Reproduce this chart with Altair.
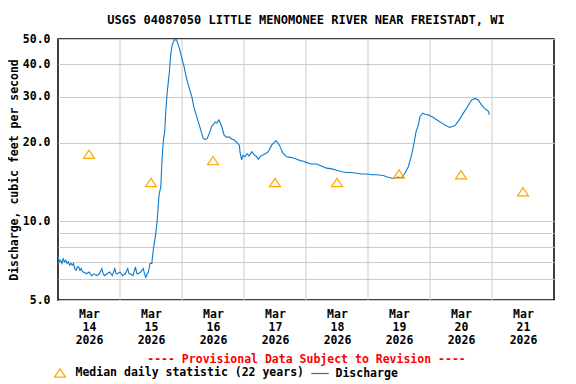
import altair as alt
import pandas as pd

TITLE = "USGS 04087050 LITTLE MENOMONEE RIVER NEAR FREISTADT, WI"
Y_TITLE = "Discharge, cubic feet per second"
X_NOTE = "---- Provisional Data Subject to Revision ----"
MEDIAN_NAME = "Median daily statistic (22 years)"
FLOW_NAME = "Discharge"

# discharge readings: hours after 2026-03-14 00:00, cubic feet per second
flow_hours = [
    0, 0.5, 1, 1.5, 2, 2.5, 3, 3.5, 4, 4.5, 5, 5.5, 6, 6.5, 7, 7.5, 8, 8.5, 9, 9.5,
    10, 11, 12, 13, 14, 15, 16, 17, 17.5, 18, 19, 20, 21, 22, 22.5, 23, 24, 25, 26,
    27, 27.5, 28, 29, 30, 30.5, 31, 32, 33, 33.5, 34, 34.5, 35, 35.6, 36.3, 36.9,
    37.8, 38.4, 39.1, 39.8, 40.3, 40.8, 41.3, 41.8, 42.3, 43.1, 43.6, 44.2, 45.0,
    45.9, 47.0, 47.9, 48.8, 49.8, 50.8, 51.8, 52.6, 53.7, 54.7, 55.6, 56.2, 57.0,
    57.8, 58.6, 59.5, 60.8, 61.5, 62.3, 63.4, 64.3, 65.3, 66.2, 67.2, 68.2, 69.2,
    70.2, 70.5, 71.1, 71.6, 72.4, 73.2, 74.0, 75.0, 76.0, 76.9, 77.5, 78.5, 79.5,
    80.5, 81.4, 82.7, 83.5, 84.4, 85.7, 87.0, 88.5, 90.0, 91.1, 92.5, 93.7, 95.0,
    96.3, 98.0, 100.1, 102.0, 104.0, 106.0, 107.9, 110.0, 111.8, 113.5, 115.6,
    117.5, 119.5, 121.5, 123.4, 125.9, 127.5, 129.8, 131.5, 133.0, 134.3, 135.6,
    136.9, 137.8, 138.6, 139.5, 140.1, 141.2, 142.2, 143.3, 145.3, 147.2, 149.2,
    150.5, 151.7, 153.7, 155.3, 156.9, 158.4, 160.1, 161.4, 162.7, 164.0, 165.3,
    166.6, 167.0,
]
flow_cfs = [
    7.4, 7.0, 7.1, 6.9, 7.2, 7.0, 7.1, 6.9, 7.0, 6.8, 6.9, 6.8, 6.9, 6.6, 6.5, 6.7, 6.7, 6.5, 6.6, 6.4,
    6.4, 6.3, 6.4, 6.2, 6.3, 6.2, 6.3, 6.6, 6.3, 6.2, 6.3, 6.4, 6.2, 6.6, 6.3, 6.3, 6.4, 6.2, 6.3,
    6.6, 6.3, 6.3, 6.2, 6.7, 6.3, 6.3, 6.4, 6.6, 6.3, 6.1, 6.3, 6.4, 6.9, 6.9, 7.8,
    8.9, 10.1, 12.6, 13.6, 17.5, 20.5, 22.1, 27.2, 31.4, 37.3, 43.4, 47.4, 49.6,
    49.6, 46.0, 42.2, 39.2, 35.2, 32.4, 30.1, 27.4, 25.2, 23.4, 21.8, 20.8, 20.6,
    20.8, 21.8, 23.1, 24.0, 23.8, 24.5, 23.1, 21.4, 21.0, 21.1, 20.7, 20.5, 20.1,
    19.6, 18.3, 17.2, 17.9, 17.7, 18.2, 17.8, 18.5, 18.0, 17.7, 17.3, 17.8, 18.0,
    18.2, 18.5, 19.6, 20.0, 20.4, 19.6, 18.3, 17.7, 17.6, 17.5, 17.3, 17.1, 17.0,
    16.8, 16.6, 16.6, 16.3, 16.0, 15.9, 15.7, 15.5, 15.4, 15.4, 15.3,
    15.2, 15.2, 15.1, 15.1, 15.0, 14.8, 14.6, 14.8, 14.7, 15.3, 16.2,
    18.0, 19.9, 22.1, 23.4, 25.2, 26.0, 25.7, 25.6, 25.0, 24.3, 23.6,
    23.2, 22.9, 23.3, 24.5, 26.0, 27.4, 29.2, 29.6, 29.2, 27.9, 27.0,
    26.4, 25.6,
]

median_days = [14, 15, 16, 17, 18, 19, 20, 21]
median_cfs = [18.1, 14.1, 17.1, 14.1, 14.1, 15.2, 15.1, 13.0]

y_ticks = [5, 6, 7, 8, 9, 10, 20, 30, 40, 50]
y_labeled = [5, 10, 20, 30, 40, 50]
label_days = [14, 15, 16, 17, 18, 19, 20, 21]
grid_days = [15, 16, 17, 18, 19, 20, 21]

FONT = "DejaVu Sans Mono"
FS = 11.5
BLUE = "#0a7acc"
ORANGE = "#ffa500"
TRI = "M0,-0.75L1,0.75L-1,0.75Z"
STROKE = "M-1.6,0L1.6,0"

start = pd.Timestamp("2026-03-14 00:00")
flow = pd.DataFrame({
    "time": start + pd.to_timedelta(flow_hours, unit="h"),
    "cfs": flow_cfs,
    "series": FLOW_NAME,
})
median = pd.DataFrame({
    "time": [pd.Timestamp(2026, 3, d, 12) for d in median_days],
    "cfs": median_cfs,
    "series": MEDIAN_NAME,
})
grid = pd.DataFrame({"time": [pd.Timestamp(2026, 3, d) for d in grid_days]})

x_scale = alt.Scale(domain=[alt.DateTime(year=2026, month=3, date=14),
                            alt.DateTime(year=2026, month=3, date=22)])
y_scale = alt.Scale(type="log", domain=[5, 50], nice=False)

x_axis = alt.Axis(
    values=[alt.DateTime(year=2026, month=3, date=d, hours=12) for d in label_days],
    labelExpr="[timeFormat(datum.value, '%b'), timeFormat(datum.value, '%d'), timeFormat(datum.value, '%Y')]",
    grid=False, ticks=False, domain=False, labelPadding=8, labelLineHeight=13,
    labelBaseline="top", labelFlush=False, labelOverlap=False,
    title=X_NOTE, titleColor="#ff0000", titlePadding=8,
)
y_axis = alt.Axis(
    values=y_ticks,
    labelExpr="indexof(" + str(y_labeled) + ", datum.value) >= 0 ? format(datum.value, '.1f') : ''",
    grid=True, gridColor="#cccccc", gridWidth=1, ticks=False, domain=False,
    labelPadding=8, labelOverlap=False,
    title=Y_TITLE, titleX=-44, titleY=130.5, titleAngle=270,
    titleAlign="center", titleBaseline="middle",
)

legend = alt.Legend(orient="none", legendX=-4.5, legendY=327,
                    direction="horizontal", title=None,
                    symbolSize=121, symbolStrokeWidth=1.2,
                    labelOffset=9, columnPadding=4)
color = alt.Color("series:N",
                  scale=alt.Scale(domain=[MEDIAN_NAME, FLOW_NAME], range=[ORANGE, BLUE]),
                  legend=legend)
shape = alt.Shape("series:N",
                  scale=alt.Scale(domain=[MEDIAN_NAME, FLOW_NAME], range=[TRI, STROKE]),
                  legend=legend)

rules = alt.Chart(grid).mark_rule(color="#cccccc", strokeWidth=1).encode(
    x=alt.X("time:T", scale=x_scale, axis=x_axis)
)
line = alt.Chart(flow).mark_line(strokeWidth=1.1).encode(
    x=alt.X("time:T", scale=x_scale, axis=x_axis),
    y=alt.Y("cfs:Q", scale=y_scale, axis=y_axis),
    color=color,
)
points = alt.Chart(median).mark_point(filled=False, size=121, strokeWidth=1.2, opacity=1).encode(
    x=alt.X("time:T", scale=x_scale, axis=x_axis),
    y=alt.Y("cfs:Q", scale=y_scale, axis=y_axis),
    color=color,
    shape=shape,
)

chart = alt.layer(rules, line, points).properties(
    width=496, height=261,
    autosize=alt.AutoSizeParams(type="none"),
    padding={"left": 50, "top": 31, "right": 6, "bottom": 84},
    title=alt.Title(TITLE, font=FONT, fontSize=12, fontWeight="bold",
                    anchor="middle", offset=6, color="black"),
).configure(
    font=FONT,
    background="white",
).configure_view(
    stroke="black", strokeWidth=1.5,
).configure_axis(
    labelFont=FONT, labelFontSize=FS, labelFontWeight="bold", labelColor="black",
    titleFont=FONT, titleFontSize=FS, titleFontWeight="bold",
).configure_legend(
    labelFont=FONT, labelFontSize=FS, labelFontWeight="bold", labelColor="black",
    labelLimit=400,
)

chart.save("out.html", embed_options={"renderer": "svg", "actions": False})
